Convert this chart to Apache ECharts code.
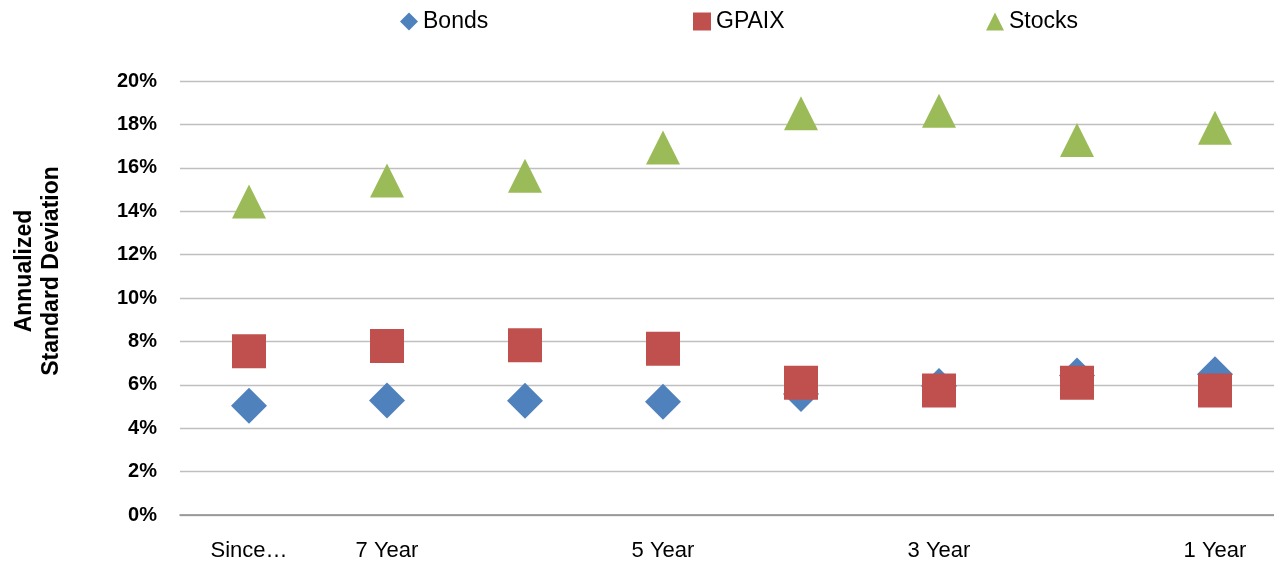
<!DOCTYPE html>
<html>
<head>
<meta charset="utf-8">
<script src="https://cdn.jsdelivr.net/npm/echarts@6/dist/echarts.min.js"></script>
<style>
html,body{margin:0;padding:0;background:#fff;}
#chart{width:1274px;height:561px;}
</style>
</head>
<body>
<div id="chart"></div>
<script>
var categories = ["Since…", "7 Year", "6 Year", "5 Year", "4 Year", "3 Year", "2 Year", "1 Year"];
var shownLabels = [0, 1, 3, 5, 7];
var bonds  = [5.04, 5.28, 5.26, 5.22, 5.58, 5.94, 6.43, 6.49];
var gpaix  = [7.55, 7.79, 7.82, 7.66, 6.10, 5.74, 6.10, 5.74];
var stocks = [14.45, 15.42, 15.63, 16.93, 18.51, 18.63, 17.28, 17.85];
var yTicks = {min: 0, max: 20, interval: 2};
var yTitle = "Annualized\nStandard Deviation";
var seriesNames = ["Bonds", "GPAIX", "Stocks"];

var FONT = "'Liberation Sans', Arial, sans-serif";
var legendLefts = [400, 693, 986];
var legendIcons = ['diamond', 'rect', 'triangle'];
var legends = seriesNames.map(function (n, i) {
  return {
    top: 10, left: legendLefts[i], padding: 0, itemWidth: 18, itemHeight: 18, itemGap: 0,
    textStyle: {fontFamily: FONT, fontSize: 23, color: '#000'},
    data: [{name: n, icon: legendIcons[i]}]
  };
});

var chart = echarts.init(document.getElementById('chart'), null, {renderer: 'canvas'});
chart.setOption({
  animation: false,
  backgroundColor: '#ffffff',
  textStyle: {fontFamily: FONT},
  grid: {left: 180, width: 1104, top: 81, bottom: 46, containLabel: false, outerBoundsMode: 'none'},
  legend: legends,
  graphic: [{
    type: 'text', x: 38, y: 271, rotation: Math.PI / 2,
    style: {text: yTitle, fontFamily: FONT, fontSize: 23, fontWeight: 'bold', fill: '#000',
      align: 'center', verticalAlign: 'middle', lineHeight: 27.5}
  }],
  xAxis: {
    type: 'category', data: categories, boundaryGap: true,
    axisLine: {show: true, lineStyle: {color: '#8C8C8C', width: 1.5}},
    axisTick: {show: false},
    axisLabel: {
      interval: function (i) { return shownLabels.indexOf(i) >= 0; },
      fontFamily: FONT, fontSize: 22, color: '#000', margin: 25
    },
    splitLine: {show: false}
  },
  yAxis: {
    type: 'value', min: yTicks.min, max: yTicks.max, interval: yTicks.interval,
    axisLine: {show: false}, axisTick: {show: false},
    axisLabel: {formatter: '{value}%', fontFamily: FONT, fontSize: 20, fontWeight: 'bold', color: '#000', margin: 23},
    splitLine: {show: true, lineStyle: {color: '#BFBFBF', width: 1.4}}
  },
  series: [
    {name: seriesNames[0], type: 'scatter', data: bonds, symbol: 'diamond', symbolSize: 36,
     itemStyle: {color: '#4F81BD', opacity: 1}},
    {name: seriesNames[1], type: 'scatter', data: gpaix, symbol: 'rect', symbolSize: 34,
     itemStyle: {color: '#C0504D', opacity: 1}},
    {name: seriesNames[2], type: 'scatter', data: stocks, symbol: 'triangle', symbolSize: 34,
     itemStyle: {color: '#9BBB59', opacity: 1}}
  ]
});
</script>
</body>
</html>
